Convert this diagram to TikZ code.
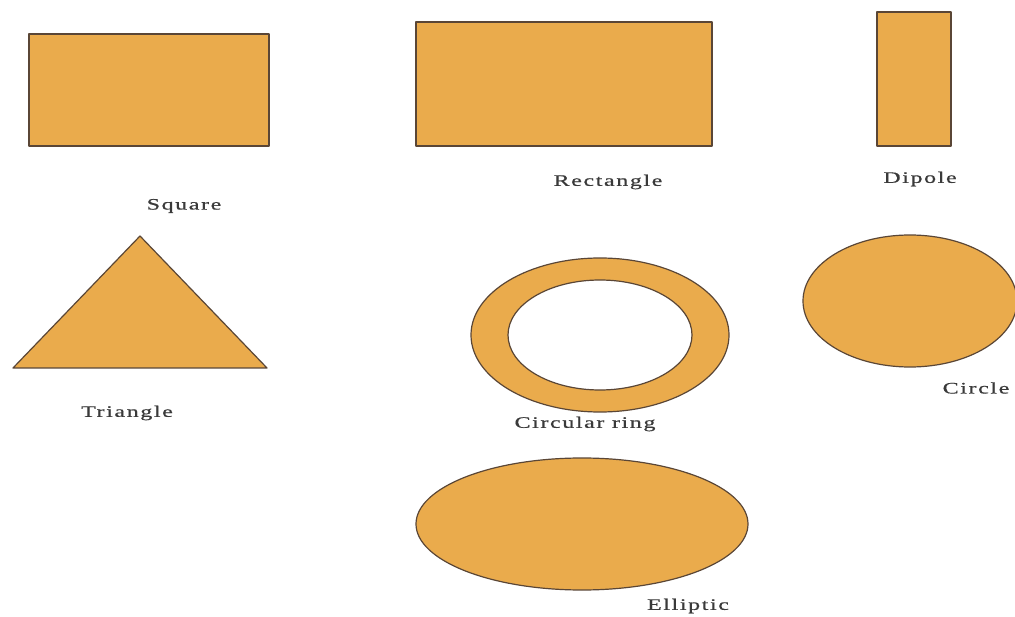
\documentclass[tikz,border=0pt]{standalone}
\usepackage{fontspec}
\setmainfont{Liberation Serif}
\newfontfamily\lblfont[FakeStretch=1.5,LetterSpace=10,FakeBold=0.6]{Liberation Serif}
\definecolor{shapefill}{HTML}{EAAB4C}
\definecolor{shapeedge}{HTML}{5A4636}
\definecolor{labelgray}{HTML}{3A3A3A}
\begin{document}
\begin{tikzpicture}[x=1pt,y=-1pt,
  shp/.style={fill=shapefill,draw=shapeedge,line width=1.2pt,line join=round},
  lbl/.style={text=labelgray,font=\lblfont\fontsize{16}{18}\selectfont,inner sep=0pt}]
\useasboundingbox (0,0) rectangle (1015,617);
\fill[white] (0,0) rectangle (1015,617);
% Square
\draw[shp] (29,34) rectangle (269,146);
\node[lbl] (lsq) at (184,206) {Square};
% Rectangle
\draw[shp] (416,22) rectangle (712,146);
\node[lbl] (lrect) at (608,182) {Rectangle};
% Dipole
\draw[shp] (877,12) rectangle (951,146);
\node[lbl] (ldip) at (920,179) {Dipole};
% Triangle
\draw[shp] (140,236) -- (267,368) -- (13,368) -- cycle;
\node[lbl] (ltri) at (127,413) {Triangle};
% Circular ring
\draw[shp,even odd rule] (600,335) ellipse [x radius=129,y radius=77] (600,335) ellipse [x radius=92,y radius=55];
\node[lbl] (lring) at (585,424) {Circular ring};
% Circle
\draw[shp] (910,301) ellipse [x radius=107,y radius=66];
\node[lbl] (lcirc) at (976,388) {Circle};
% Ellipse
\draw[shp] (582,524) ellipse [x radius=166,y radius=66];
\node[lbl] (lell) at (688,606) {Elliptic};
\end{tikzpicture}
\end{document}
